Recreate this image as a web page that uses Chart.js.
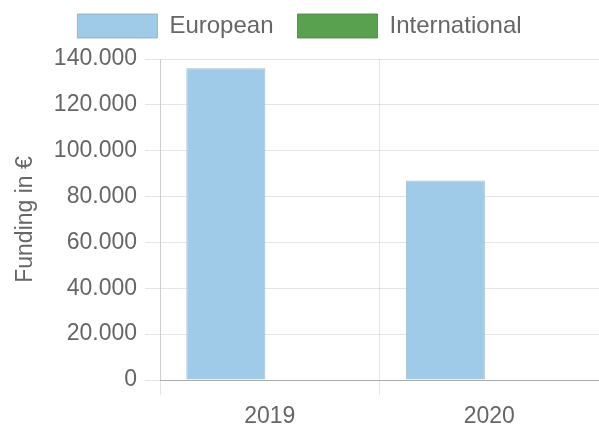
<!DOCTYPE html>
<html>
<head>
<meta charset="utf-8">
<script src="https://cdn.jsdelivr.net/npm/chart.js@4/dist/chart.umd.min.js"></script>
<style>
  html, body { margin: 0; padding: 0; background: #fff; }
  #wrap { width: 599px; height: 427px; }
</style>
</head>
<body>
<div id="wrap"><canvas id="fundingChart"></canvas></div>
<script>
// Funding per year, split by origin
const years = ['2019', '2020'];
const european = [136000, 87000];
const international = [0, 0];
const seriesNames = ['European', 'International'];
const seriesColors = ['#a0cbe8', '#59a14f'];

// German style thousands separator: 140000 -> 140.000
function formatEuro(value) {
    return String(value).replace(/\B(?=(\d{3})+(?!\d))/g, '.');
}

// a bit more room below the legend
const legendGap = {
    id: 'legendGap',
    beforeInit(chart) {
        const origFit = chart.legend.fit;
        chart.legend.fit = function() {
            origFit.call(this);
            this.height += 11;
        };
    }
};

Chart.defaults.font.family = '"Liberation Sans", Arial, sans-serif';
Chart.defaults.font.size = 23;
Chart.defaults.color = '#666';

const ctx = document.getElementById('fundingChart').getContext('2d');

new Chart(ctx, {
    type: 'bar',
    plugins: [legendGap],
    data: {
        labels: years,
        datasets: [
            {
                label: seriesNames[0],
                data: european,
                backgroundColor: seriesColors[0],
                borderColor: 'rgba(140,170,190,0.8)',
                borderWidth: 1
            },
            {
                label: seriesNames[1],
                data: international,
                backgroundColor: seriesColors[1],
                borderColor: 'rgba(70,130,60,0.8)',
                borderWidth: 1
            }
        ]
    },
    options: {
        responsive: true,
        maintainAspectRatio: false,
        animation: false,
        layout: { padding: { top: -10 } },
        plugins: {
            legend: {
                position: 'top',
                labels: {
                    boxWidth: 80,
                    boxHeight: 24,
                    padding: 24,
                    font: { size: 24 }
                }
            },
            tooltip: { enabled: false }
        },
        scales: {
            x: {
                grid: {
                    color: 'rgba(0,0,0,0.1)',
                    tickLength: 15,
                    offset: true
                },
                border: { color: 'rgba(0,0,0,0.25)' },
                ticks: { padding: 8 },
                afterFit(scale) {
                    scale.height = 47;
                }
            },
            y: {
                beginAtZero: true,
                max: 140000,
                ticks: {
                    stepSize: 20000,
                    padding: 8,
                    callback: value => formatEuro(value)
                },
                grid: {
                    color: 'rgba(0,0,0,0.1)',
                    tickLength: 15
                },
                border: { color: 'rgba(0,0,0,0.1)' },
                title: {
                    display: true,
                    text: 'Funding in €',
                    padding: { top: 12, bottom: 4 }
                },
                afterFit(scale) {
                    scale.width = 160;
                }
            }
        }
    }
});
</script>
</body>
</html>
